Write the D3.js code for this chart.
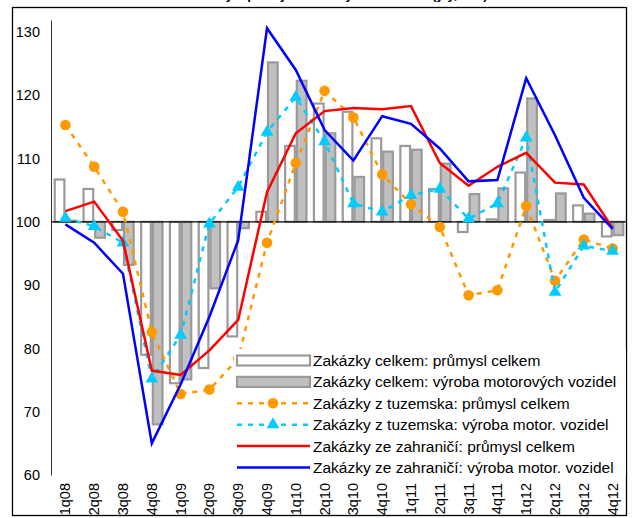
<!DOCTYPE html>
<html>
<head>
<meta charset="utf-8">
<script src="https://cdn.jsdelivr.net/npm/d3@7"></script>
<style>
  body { margin: 0; background: white; }
  svg { display: block; font-family: Arial, 'Liberation Sans', sans-serif; }
</style>
</head>
<body>
<svg id="canvas" width="638" height="518"></svg>
<script>
// quarters on the x axis
let categories = ['1q08','2q08','3q08','4q08','1q09','2q09','3q09','4q09','1q10','2q10',
                  '3q10','4q10','1q11','2q11','3q11','4q11','1q12','2q12','3q12','4q12'];

// index values (same quarter of previous year = 100)
let totalAll      = [106.7, 105.2, 98.7, 79.0, 74.5, 76.9, 81.9, 101.6, 112.0, 118.7, 117.4, 113.2, 112.0, 105.2, 98.4, 100.4, 107.8, 100.3, 102.6, 97.7];
let totalMotor    = [100.2, 97.5, 93.2, 68.0, 75.1, 89.5, 99.0, 125.2, 122.3, 114.0, 107.1, 111.1, 111.4, 109.2, 104.4, 105.3, 119.5, 104.5, 101.3, 97.9];
let domesticAll   = [115.3, 108.7, 101.6, 82.6, 72.8, 73.5, 78.4, 96.7, 109.3, 120.7, 116.5, 107.5, 102.8, 99.2, 88.4, 89.2, 102.5, 90.7, 97.2, 95.8];
let domesticMotor = [100.6, 99.3, 96.7, 75.2, 82.1, 99.7, 105.5, 114.2, 119.7, 112.7, 102.9, 101.6, 104.2, 105.2, 100.5, 102.9, 113.3, 88.9, 96.2, 95.4];
let foreignAll    = [101.7, 103.2, 97.0, 76.5, 75.8, 79.7, 84.5, 104.7, 114.0, 117.5, 118.0, 117.8, 118.3, 109.3, 105.7, 108.7, 110.9, 106.2, 105.9, 99.0];
let foreignMotor  = [99.6, 96.7, 91.8, 65.0, 74.3, 85.0, 97.1, 130.6, 124.0, 114.5, 109.7, 116.7, 115.5, 111.6, 106.4, 106.6, 122.7, 113.7, 103.8, 98.9];

let yTicks = [60, 70, 80, 90, 100, 110, 120, 130];

let legendLabels = [
    'Zakázky celkem: průmysl celkem',
    'Zakázky celkem: výroba motorových vozidel',
    'Zakázky z tuzemska: průmysl celkem',
    'Zakázky z tuzemska: výroba motor. vozidel',
    'Zakázky ze zahraničí: průmysl celkem',
    'Zakázky ze zahraničí: výroba motor. vozidel'
];

let canvas = d3.select('#canvas');

// scales
let x = d3.scaleBand()
    .domain(categories)
    .range([51, 627])
    .paddingInner(0.19)
    .paddingOuter(0.095);
let xSub = d3.scaleBand()
    .domain(['all', 'motor'])
    .range([0, x.bandwidth()]);
let y = d3.scaleLinear()
    .domain([60, 131.9])
    .range([475, 20]);
let cx = (c) => x(c) + x.bandwidth() / 2;

// outer frame + title (cut off by the top edge, like the source)
canvas.append('rect')
    .attr('x', 12.5).attr('y', 7.5)
    .attr('width', 614).attr('height', 508)
    .attr('fill', 'white')
    .attr('stroke', 'black')
    .attr('stroke-width', 1.3);

canvas.append('text')
    .attr('x', 318).attr('y', -1)
    .attr('text-anchor', 'middle')
    .style('font-weight', 'bold')
    .style('font-size', '13px')
    .text('Nové zakázky v průmyslu a ve výrobě vozidel (y/y, v %)');

// bars
let barSeries = [
    {key: 'all', values: totalAll, fill: 'white'},
    {key: 'motor', values: totalMotor, fill: '#c0c0c0'}
];
barSeries.forEach((s) => {
    canvas.append('g')
        .selectAll('rect')
        .data(categories)
        .enter()
        .append('rect')
        .attr('x', (c) => x(c) + xSub(s.key) + 1)
        .attr('width', xSub.bandwidth() - 2)
        .attr('y', (c, i) => y(Math.max(100, s.values[i])))
        .attr('height', (c, i) => Math.abs(y(s.values[i]) - y(100)))
        .attr('fill', s.fill)
        .attr('stroke', '#9a9a9a')
        .attr('stroke-width', 2.2);
});

// y axis (no ticks, labels only)
let yAxis = d3.axisLeft(y).tickValues(yTicks).tickSize(0).tickPadding(11);
canvas.append('g')
    .attr('transform', 'translate(51,0)')
    .call(yAxis)
    .call(g => g.select('.domain').attr('stroke', '#333'))
    .selectAll('text')
    .style('font-size', '14.5px')
    .attr('fill', 'black');

// category axis crosses at 100
canvas.append('line')
    .attr('x1', 51).attr('x2', 627)
    .attr('y1', y(100)).attr('y2', y(100))
    .attr('stroke', 'black')
    .attr('stroke-width', 1.2);

// labels sit at the bottom
canvas.append('g')
    .selectAll('text')
    .data(categories)
    .enter()
    .append('text')
    .attr('transform', (c) => `translate(${cx(c) + 5},483) rotate(-90)`)
    .attr('text-anchor', 'end')
    .style('font-size', '14.5px')
    .text((c) => c);

// lines
let line = d3.line()
    .x((d) => cx(d.c))
    .y((d) => y(d.v));
let pts = (arr) => arr.map((v, i) => ({c: categories[i], v: v}));

let lineSeries = [
    {values: domesticAll, color: '#ff9900', dash: '5,6', marker: 'circle'},
    {values: domesticMotor, color: '#00ccff', dash: '5,6', marker: 'triangle'},
    {values: foreignAll, color: '#ff0000', dash: null, marker: null},
    {values: foreignMotor, color: '#0000ff', dash: null, marker: null}
];

let triangle = d3.symbol().type(d3.symbolTriangle).size(70);

lineSeries.forEach((s) => {
    canvas.append('path')
        .datum(pts(s.values))
        .attr('d', line)
        .attr('fill', 'none')
        .attr('stroke', s.color)
        .attr('stroke-width', 2.5)
        .attr('stroke-dasharray', s.dash);

    if (s.marker === 'circle') {
        canvas.append('g')
            .selectAll('circle')
            .data(pts(s.values))
            .enter()
            .append('circle')
            .attr('cx', (d) => cx(d.c))
            .attr('cy', (d) => y(d.v))
            .attr('r', 5.3)
            .attr('fill', s.color);
    } else if (s.marker === 'triangle') {
        canvas.append('g')
            .selectAll('path')
            .data(pts(s.values))
            .enter()
            .append('path')
            .attr('d', triangle)
            .attr('transform', (d) => `translate(${cx(d.c)},${y(d.v)})`)
            .attr('fill', s.color);
    }
});

// legend, white box on top of the plot
let legend = canvas.append('g');
legend.append('rect')
    .attr('x', 234).attr('y', 349)
    .attr('width', 392).attr('height', 128)
    .attr('fill', 'white');

legendLabels.forEach((label, i) => {
    let ly = 360.5 + i * 21.4;
    if (i < 2) {
        legend.append('rect')
            .attr('x', 237).attr('y', ly - 5)
            .attr('width', 73).attr('height', 10)
            .attr('fill', barSeries[i].fill)
            .attr('stroke', '#9a9a9a')
            .attr('stroke-width', 2.2);
    } else {
        let s = lineSeries[i - 2];
        legend.append('line')
            .attr('x1', 237).attr('x2', 310)
            .attr('y1', ly).attr('y2', ly)
            .attr('stroke', s.color)
            .attr('stroke-width', 2.5)
            .attr('stroke-dasharray', s.dash);
        if (s.marker === 'circle') {
            legend.append('circle')
                .attr('cx', 273).attr('cy', ly).attr('r', 5.3)
                .attr('fill', s.color);
        } else if (s.marker === 'triangle') {
            legend.append('path')
                .attr('d', triangle)
                .attr('transform', `translate(273,${ly})`)
                .attr('fill', s.color);
        }
    }
    legend.append('text')
        .attr('x', 313).attr('y', ly + 5.5)
        .style('font-size', '15.5px')
        .text(label);
});
</script>
</body>
</html>
